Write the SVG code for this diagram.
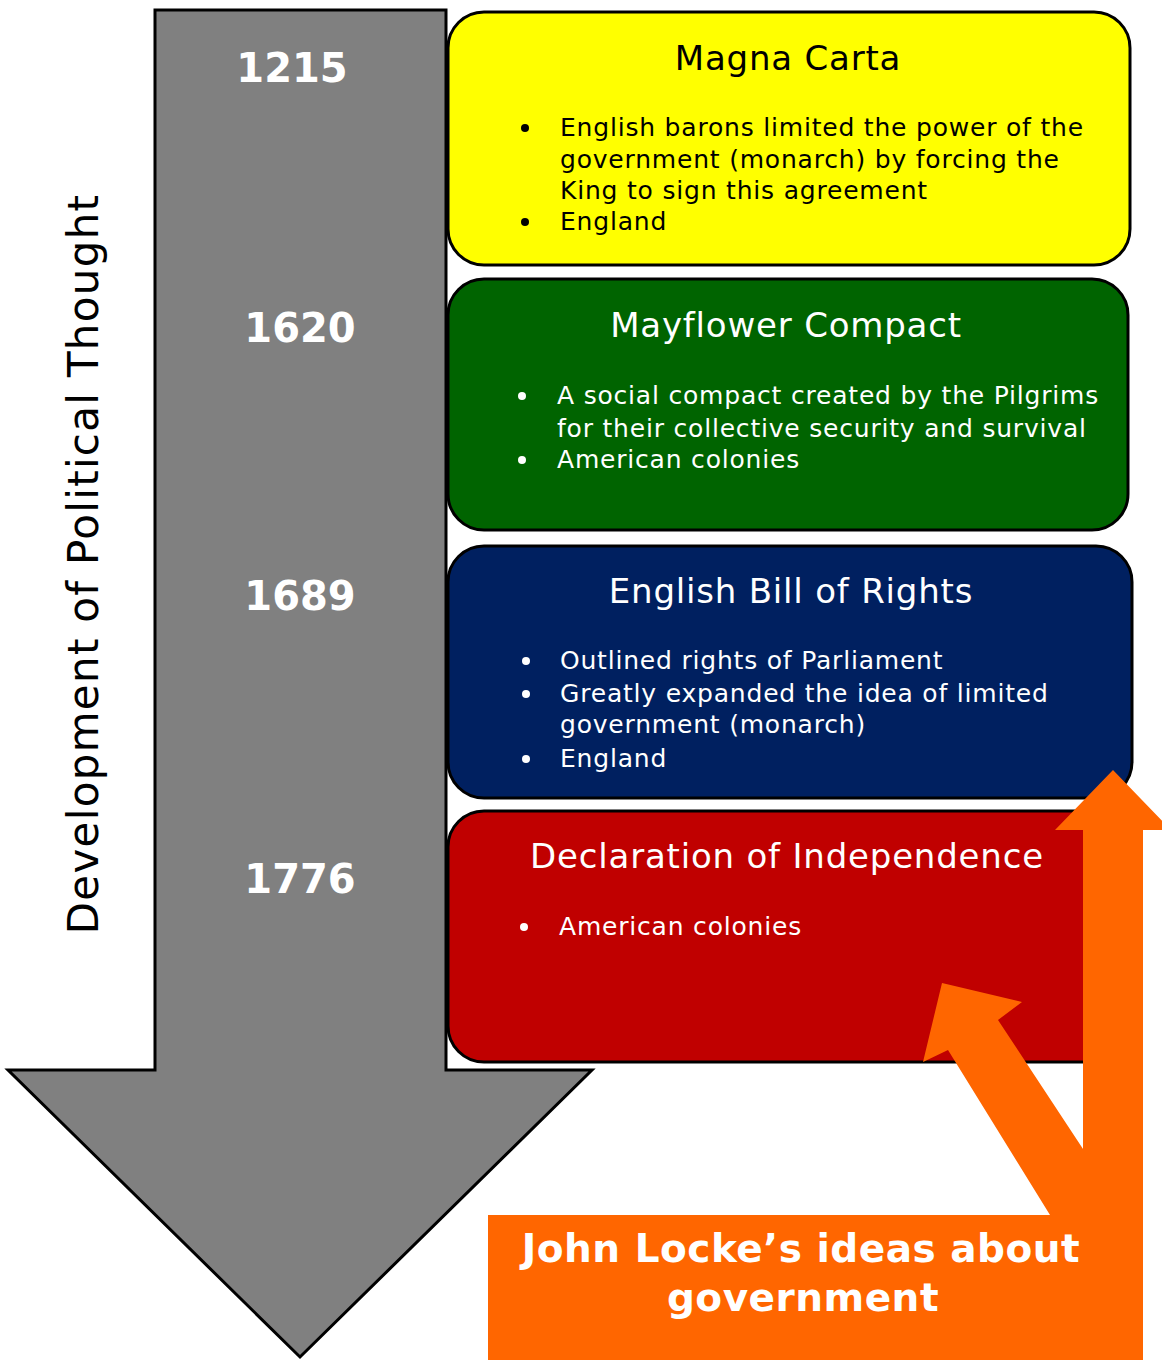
<svg xmlns="http://www.w3.org/2000/svg" width="1162" height="1360" viewBox="0 0 1162 1360">
<style>
.box{stroke:#000;stroke-width:3}
.title{font-family:"DejaVu Sans",Verdana,sans-serif;font-size:34px;letter-spacing:0.8px;text-anchor:middle}
.item{font-family:"DejaVu Sans",Verdana,sans-serif;font-size:25px;letter-spacing:0.8px}
.year{font-family:"DejaVu Sans",Verdana,sans-serif;font-size:40px;font-weight:bold;fill:#fff;text-anchor:middle}
.dark{fill:#000}
.light{fill:#fff}
.orange{fill:#FF6600}
</style>
<rect width="1162" height="1360" fill="#fff"/>
<g id="timeline-arrow">
<polygon points="155,10 446,10 446,1070 592,1070 300,1357 8,1070 155,1070" fill="#808080" stroke="#000" stroke-width="3" stroke-linejoin="miter"/>
<text class="year" x="292" y="82">1215</text>
<text class="year" x="300" y="342">1620</text>
<text class="year" x="300" y="610">1689</text>
<text class="year" x="300" y="893">1776</text>
</g>
<g id="axis-label">
<text transform="translate(98,564) rotate(-90)" font-family="DejaVu Sans, Verdana, sans-serif" font-size="42" letter-spacing="1.3" text-anchor="middle" fill="#000">Development of Political Thought</text>
</g>
<g id="magna-carta">
<rect class="box" x="448" y="12" width="682" height="253" rx="36" fill="#FFFF00"/>
<text class="title dark" x="788" y="70">Magna Carta</text>
<circle class="dark" cx="525" cy="128" r="4"/>
<text class="item dark" x="560" y="136">English barons limited the power of the</text>
<text class="item dark" x="560" y="168">government (monarch) by forcing the</text>
<text class="item dark" x="560" y="199">King to sign this agreement</text>
<circle class="dark" cx="525" cy="222" r="4"/>
<text class="item dark" x="560" y="230">England</text>
</g>
<g id="mayflower-compact">
<rect class="box" x="448" y="279" width="680" height="251" rx="36" fill="#006400"/>
<text class="title light" x="786" y="337">Mayflower Compact</text>
<circle class="light" cx="522" cy="396" r="4"/>
<text class="item light" x="557" y="404">A social compact created by the Pilgrims</text>
<text class="item light" x="557" y="437">for their collective security and survival</text>
<circle class="light" cx="522" cy="460" r="4"/>
<text class="item light" x="557" y="468">American colonies</text>
</g>
<g id="bill-of-rights">
<rect class="box" x="448" y="546" width="684" height="252" rx="36" fill="#002060"/>
<text class="title light" x="791" y="603">English Bill of Rights</text>
<circle class="light" cx="526" cy="661" r="4"/>
<text class="item light" x="560" y="669">Outlined rights of Parliament</text>
<circle class="light" cx="526" cy="694" r="4"/>
<text class="item light" x="560" y="702">Greatly expanded the idea of limited</text>
<text class="item light" x="560" y="733">government (monarch)</text>
<circle class="light" cx="526" cy="759" r="4"/>
<text class="item light" x="560" y="767">England</text>
</g>
<g id="declaration">
<rect class="box" x="448" y="811" width="682" height="251" rx="36" fill="#C00000"/>
<text class="title light" x="787" y="868">Declaration of Independence</text>
<circle class="light" cx="524" cy="927" r="4"/>
<text class="item light" x="559" y="935">American colonies</text>
</g>
<g id="connectors">
<polygon class="orange" points="942,983 1022,1002 998,1020 1085,1152 1090,1215 1050,1215 948,1050 923,1062"/>
<polygon class="orange" points="1113,770 1171,830 1143,830 1143,1360 1083,1360 1083,830 1055,830"/>
</g>
<g id="john-locke">
<rect class="orange" x="488" y="1215" width="655" height="145"/>
<text x="801" y="1262" font-family="DejaVu Sans, Verdana, sans-serif" font-size="39" font-weight="bold" letter-spacing="0.5" fill="#fff" text-anchor="middle">John Locke’s ideas about</text>
<text x="803" y="1311" font-family="DejaVu Sans, Verdana, sans-serif" font-size="39" font-weight="bold" letter-spacing="0.5" fill="#fff" text-anchor="middle">government</text>
</g>
</svg>
